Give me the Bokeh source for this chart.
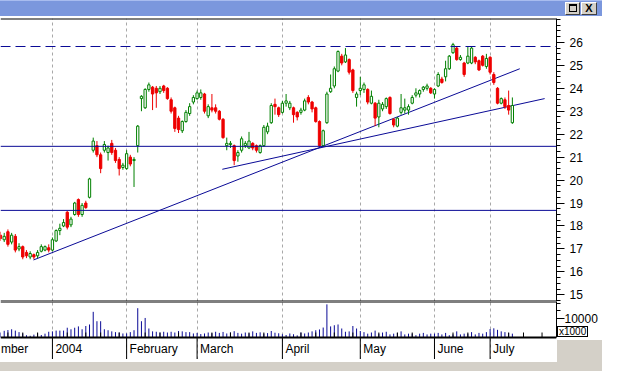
from bokeh.plotting import figure
from bokeh.models import (ColumnDataSource, Range1d, LinearAxis, FixedTicker, Grid,
                          Span, Div)
from bokeh.core.properties import value
from bokeh.layouts import column
from bokeh.embed import file_html
from bokeh.resources import INLINE

# ---------------- data ----------------
opens = [17.60, 17.40, 17.75, 17.30, 17.55, 17.00, 17.10, 16.85, 16.65, 16.75,
         16.70, 16.90, 16.95, 17.05, 16.95, 17.35, 17.80, 18.00, 18.60, 18.05,
         18.50, 19.15, 18.50, 19.00, 19.25, 21.30, 21.50, 21.10, 21.30, 21.20,
         21.60, 21.30, 20.90, 20.55, 20.50, 21.00, 20.85, 21.50, 23.55, 23.15,
         23.95, 24.05, 24.00, 23.85, 24.10, 24.00, 23.50, 23.15, 22.70, 22.15,
         22.55, 22.90, 23.40, 23.55, 23.60, 23.75, 22.80, 23.15, 23.15, 23.00,
         22.65, 21.50, 21.55, 21.50, 21.05, 21.30, 21.50, 21.40, 21.60, 21.50,
         21.20, 21.50, 22.10, 22.50, 23.30, 23.15, 22.95, 23.35, 23.15, 23.15,
         22.95, 22.95, 23.05, 23.60, 23.40, 23.15, 22.55, 21.50, 22.50, 23.85,
         24.10, 24.75, 25.40, 25.15, 25.25, 24.80, 23.60, 23.90, 23.95, 23.95,
         23.35, 23.35, 22.75, 23.10, 23.20, 23.60, 22.65, 22.35, 22.95, 23.05,
         23.05, 23.35, 23.70, 23.75, 23.95, 24.00, 24.00, 23.75, 24.10, 24.40,
         24.50, 24.85, 25.55, 25.75, 25.25, 25.10, 25.10, 25.10, 25.35, 25.20,
         25.40, 24.95, 25.35, 24.60, 24.00, 23.35, 23.50, 23.25, 22.50]
highs = [17.75, 17.70, 17.85, 17.70, 17.65, 17.25, 17.15, 16.95, 16.90, 16.80,
         16.95, 17.20, 17.15, 17.20, 17.50, 17.85, 18.10, 18.30, 18.65, 18.40,
         19.05, 19.20, 19.00, 19.10, 20.10, 21.85, 21.70, 21.20, 21.70, 21.50,
         21.75, 21.40, 21.00, 20.75, 21.30, 21.10, 21.00, 22.40, 23.70, 24.00,
         24.25, 24.10, 24.10, 24.10, 24.15, 24.05, 23.60, 23.20, 22.80, 22.60,
         23.05, 23.35, 23.70, 23.90, 23.95, 23.80, 23.30, 23.75, 23.30, 23.05,
         22.70, 21.85, 21.70, 21.55, 21.30, 21.90, 21.70, 22.10, 21.65, 21.55,
         21.55, 22.40, 22.50, 23.35, 23.55, 23.20, 23.45, 23.75, 23.45, 23.20,
         23.00, 23.15, 23.55, 23.70, 23.45, 23.20, 22.60, 22.20, 23.85, 24.60,
         24.95, 25.65, 25.50, 25.75, 25.30, 24.85, 23.85, 24.50, 24.25, 24.00,
         23.90, 23.40, 23.50, 23.40, 23.60, 23.65, 22.70, 22.75, 23.75, 23.55,
         23.30, 23.70, 24.00, 23.95, 24.10, 24.20, 24.05, 24.00, 24.70, 24.50,
         25.20, 25.45, 25.98, 25.80, 25.45, 25.15, 25.80, 25.80, 25.40, 25.25,
         25.45, 25.50, 25.40, 24.70, 24.05, 23.60, 23.60, 23.90, 23.60]
lows = [17.35, 17.30, 17.10, 17.20, 16.85, 16.90, 16.55, 16.60, 16.55, 16.55,
        16.60, 16.85, 16.90, 16.85, 16.90, 17.30, 17.60, 17.95, 17.85, 17.95,
        18.45, 18.40, 18.40, 18.75, 19.20, 21.20, 21.00, 20.30, 21.20, 20.85,
        21.10, 20.75, 20.20, 20.45, 20.45, 20.60, 19.70, 21.20, 23.00, 23.10,
        23.85, 23.05, 23.15, 23.75, 23.80, 23.50, 22.90, 22.10, 22.05, 22.05,
        22.50, 22.80, 23.30, 23.50, 23.50, 22.90, 22.70, 22.95, 22.90, 22.60,
        21.80, 21.30, 21.40, 20.65, 20.80, 21.20, 21.40, 21.35, 21.30, 21.20,
        21.15, 21.45, 22.00, 22.45, 22.85, 22.75, 22.90, 23.20, 23.05, 22.50,
        22.60, 22.85, 23.00, 23.30, 22.95, 22.50, 21.45, 21.45, 22.45, 23.80,
        24.00, 24.70, 25.00, 25.10, 24.60, 23.80, 23.20, 23.70, 23.80, 23.30,
        23.30, 22.35, 22.30, 23.00, 23.10, 22.85, 22.30, 22.30, 22.85, 22.90,
        22.85, 23.30, 23.60, 23.60, 23.85, 23.90, 23.75, 23.55, 24.05, 24.20,
        24.30, 24.80, 25.50, 25.20, 25.20, 24.50, 25.05, 25.05, 25.05, 24.75,
        24.95, 24.85, 24.60, 24.15, 23.30, 23.30, 23.10, 22.85, 22.45]
closes = [17.45, 17.55, 17.20, 17.60, 16.95, 17.10, 16.65, 16.70, 16.80, 16.65,
          16.85, 17.10, 17.10, 16.95, 17.40, 17.80, 17.90, 18.15, 17.95, 18.30,
          19.00, 18.50, 18.90, 18.80, 20.05, 21.70, 21.10, 20.50, 21.55, 21.40,
          21.20, 20.85, 20.50, 20.65, 21.15, 20.70, 20.90, 22.35, 23.65, 23.95,
          24.15, 23.75, 23.80, 24.00, 23.90, 23.55, 23.00, 22.25, 22.20, 22.55,
          22.95, 23.20, 23.60, 23.80, 23.80, 23.00, 23.20, 23.05, 23.00, 22.65,
          21.85, 21.60, 21.60, 20.85, 21.20, 21.80, 21.60, 21.70, 21.40, 21.30,
          21.50, 22.30, 22.35, 23.25, 23.20, 22.85, 23.35, 23.45, 23.35, 22.85,
          22.75, 23.05, 23.45, 23.40, 23.10, 22.55, 21.50, 22.15, 23.75, 24.00,
          24.85, 25.60, 25.10, 25.45, 24.70, 23.90, 23.75, 24.00, 24.15, 23.40,
          23.65, 22.70, 23.35, 23.30, 23.55, 22.90, 22.40, 22.70, 23.15, 23.15,
          23.20, 23.60, 23.80, 23.90, 24.05, 24.10, 23.80, 23.95, 24.60, 24.25,
          24.85, 25.40, 25.90, 25.25, 25.35, 24.60, 25.40, 25.75, 25.15, 24.80,
          25.00, 25.30, 24.70, 24.25, 23.35, 23.55, 23.20, 23.05, 23.25]
volumes = [2600, 3500, 3900, 4300, 3600, 2800, 2100, 1200, 900, 1500,
           2200, 1300, 2000, 3000,
           3200, 3600, 3600, 3600, 5100, 4300, 5100, 5800, 4300, 6000,
           6800, 13400, 8500, 8500, 4300, 3800, 3200, 2800, 2600, 2100,
           2100, 2800, 3800, 15300, 8500, 10200, 4700, 3200, 3000, 2600,
           3000, 2600, 3000, 2600, 3400, 3200, 2800, 2800, 2100,
           2400, 1800, 2100, 2600, 2200, 3000, 2400, 2900, 2100, 2600,
           3300, 2400, 2000, 2600, 2200, 3200, 2400, 2700, 2000, 2300,
           3400, 2500, 2200,
           1700, 1300, 2100, 1700, 1100, 2600, 2100, 2600, 3200, 3800,
           4200, 5200, 17300, 5800, 6400, 6800, 4700, 3000, 3200, 6000, 4700,
           3400, 2800, 2000, 2600, 3600, 2000, 2600, 3000, 1600, 2000,
           2400, 3200, 1600, 2000, 2000, 1200, 2000, 2400, 1600, 2000,
           2000, 2400, 1600, 2400, 1200, 1600, 3200, 1600, 2000, 2000,
           2800, 1600, 2400, 2000, 2800,
           4400, 4800, 4000, 3200, 2800, 2400, 2000]

month_starts = [14, 34, 53, 76, 97, 117, 132]
month_labels = ["2004", "February", "March", "April", "May", "June", "July"]
first_label = "mber"
week_ticks = [2, 6, 10, 18, 23, 27, 32, 39, 43, 48, 57, 62, 67, 71, 81, 85,
              90, 95, 102, 107, 111, 122, 126, 137, 141, 146]

price_ticks = list(range(15, 27))
support_levels = [21.47, 18.68]
resistance_level = 25.82
trend_x0 = [8.9, 59.8]
trend_y0 = [16.52, 20.47]
trend_x1 = [140.0, 146.7]
trend_y1 = [24.85, 23.55]
vol_ticks = [10000]
vol_minor_ticks = [14000, 18000]
vol_scale_text = "x1000"

# ---------------- layout constants ----------------
W = 602
RIGHT = 46
FRAME_W = W - RIGHT
X_START, X_END = 0.0, 149.9
P_LO, P_HI = 14.71, 27.04
V_TOP = 18800
PRICE_FRAME_H = 283
VOL_FRAME_H = 36
LABEL_ROW = 22
V_BOT = -V_TOP * LABEL_ROW / VOL_FRAME_H
FONT = "Liberation Sans"
NAVY = "#0a0a96"
UPC = "#008000"
DNC = "#ee0000"
GRID = "#a8a8a8"
ppi = FRAME_W / (X_END - X_START)

idx = list(range(len(closes)))
up = [c >= o for o, c in zip(opens, closes)]
src = ColumnDataSource(dict(
    x=idx, o=opens, h=highs, l=lows, c=closes, v=volumes,
    top=[max(o, c) for o, c in zip(opens, closes)],
    bot=[min(o, c) for o, c in zip(opens, closes)],
    fill=["white" if u else DNC for u in up],
    line=[UPC if u else DNC for u in up],
))

# ---------------- title bar ----------------
title_html = (
    '<div style="position:relative;width:%dpx;height:16px;background:#7b97dd;'
    'border-top:1px solid #a8bcef;box-sizing:border-box;">'
    '<div style="position:absolute;right:22px;top:1px;width:15px;height:13px;box-sizing:border-box;'
    'background:#d4d0c8;border:1px solid;border-color:#ffffff #404040 #404040 #ffffff;">'
    '<div style="position:absolute;left:3px;top:1px;width:8px;height:8px;box-sizing:border-box;'
    'border:1px solid #000;border-top-width:2px;"></div></div>'
    '<div style="position:absolute;right:5px;top:1px;width:16px;height:13px;box-sizing:border-box;'
    'background:#d4d0c8;border:1px solid;border-color:#ffffff #404040 #404040 #ffffff;'
    'font:bold 11px \'Liberation Sans\',sans-serif;line-height:11px;text-align:center;color:#000;">X</div>'
    '</div>' % W)
title_div = Div(text=title_html, width=W, height=16, margin=(0, 0, 0, 0))

# ---------------- price pane ----------------
p = figure(width=W, height=PRICE_FRAME_H + 2,
           x_range=Range1d(X_START, X_END), y_range=Range1d(P_LO, P_HI),
           x_axis_type=None, y_axis_type=None,
           output_backend="svg", toolbar_location=None,
           min_border_left=0, min_border_right=RIGHT, min_border_top=2, min_border_bottom=0)
p.outline_line_color = None
p.background_fill_color = "white"
p.border_fill_color = "white"

p.add_layout(Grid(dimension=0, ticker=FixedTicker(ticks=month_starts),
                  grid_line_color=GRID, grid_line_dash="3 3", grid_line_width=1))

for lvl in support_levels:
    p.add_layout(Span(location=lvl, dimension="width", line_color=NAVY, line_width=1))
p.add_layout(Span(location=resistance_level, dimension="width", line_color=NAVY,
                  line_width=1, line_dash="10 5"))

p.segment(x0=trend_x0, y0=trend_y0, x1=trend_x1, y1=trend_y1, line_color=NAVY, line_width=1)

p.segment(x0="x", y0="l", x1="x", y1="h", source=src, line_color="line", line_width=1)
p.vbar(x="x", width=0.62, top="top", bottom="bot", source=src,
       fill_color="fill", line_color="line", line_width=1)

# pane borders (top line and the separator above the volume pane)
p.add_layout(Span(location=P_HI, dimension="width", line_color="black", line_width=2))
p.add_layout(Span(location=P_LO, dimension="width", line_color="black", line_width=2))

pax = LinearAxis(ticker=FixedTicker(ticks=price_ticks,
                                    minor_ticks=[14.75 + 0.25 * k for k in range(50)]))
pax.axis_line_color = "black"
pax.major_tick_out = 8
pax.major_tick_in = 0
pax.minor_tick_out = 4
pax.minor_tick_in = 0
pax.major_tick_line_color = "black"
pax.minor_tick_line_color = "black"
pax.major_label_standoff = 5
pax.major_label_text_font = FONT
pax.major_label_text_font_size = "12px"
pax.major_label_text_color = "black"
p.add_layout(pax, "right")

# ---------------- volume pane (frame includes the date-label row) ----------------
v = figure(width=W, height=VOL_FRAME_H + LABEL_ROW,
           x_range=p.x_range, y_range=Range1d(V_BOT, V_TOP),
           x_axis_type=None, y_axis_type=None,
           output_backend="svg", toolbar_location=None,
           min_border_left=0, min_border_right=RIGHT, min_border_top=0,
           min_border_bottom=0)
v.outline_line_color = None
v.background_fill_color = "white"
v.border_fill_color = "white"

v.add_layout(Grid(dimension=0, ticker=FixedTicker(ticks=month_starts), bounds=(0, V_TOP),
                  grid_line_color=GRID, grid_line_dash="3 3", grid_line_width=1))
v.add_layout(Span(location=V_TOP, dimension="width", line_color="black", line_width=2))

v.segment(x0="x", y0=0, x1="x", y1="v", source=src, line_color=NAVY, line_width=1)
tick_h = V_TOP * 5.0 / VOL_FRAME_H
v.segment(x0=week_ticks, y0=[0] * len(week_ticks), x1=week_ticks,
          y1=[tick_h] * len(week_ticks), line_color="black", line_width=1)
v.segment(x0=month_starts, y0=[V_BOT] * len(month_starts), x1=month_starts,
          y1=[0] * len(month_starts), line_color="black", line_width=1)
v.add_layout(Span(location=0, dimension="width", line_color="black", line_width=2))

lab_x = [0.4 / ppi] + [m + 3.0 / ppi for m in month_starts]
lab_t = [first_label] + month_labels
lab_y = V_BOT * 0.5
v.text(x=lab_x, y=[lab_y] * len(lab_x), text=lab_t, text_font=value(FONT),
       text_font_size="12px", text_color="black", text_align="left",
       text_baseline="middle")

vax = LinearAxis(ticker=FixedTicker(ticks=vol_ticks, minor_ticks=vol_minor_ticks),
                 bounds=(0, V_TOP))
vax.axis_line_color = "black"
vax.major_tick_out = 8
vax.major_tick_in = 0
vax.minor_tick_out = 4
vax.minor_tick_in = 0
vax.major_label_standoff = 0
vax.major_label_text_font = FONT
vax.major_label_text_font_size = "12px"
vax.major_label_text_color = "black"
v.add_layout(vax, "right")

bottom_html = (
    '<div style="position:relative;width:%dpx;height:9px;background:#d4d0c8;">'
    '<div style="position:absolute;left:%dpx;top:-%dpx;width:%dpx;height:%dpx;background:#d4d0c8;"></div>'
    '<div style="position:absolute;left:%dpx;top:-36px;height:11px;box-sizing:border-box;'
    'border:1px solid #000;background:#fff;font:10px \'Liberation Sans\',sans-serif;'
    'line-height:9px;padding:0 1px;color:#000;">%s</div>'
    '</div>' % (W, FRAME_W + 1, LABEL_ROW, RIGHT - 1, LABEL_ROW, FRAME_W + 1, vol_scale_text))
bottom_div = Div(text=bottom_html, width=W, height=9, margin=(0, 0, 0, 0))

layout = column(title_div, p, v, bottom_div, spacing=0)
open("out.html", "w").write(file_html(layout, INLINE))
